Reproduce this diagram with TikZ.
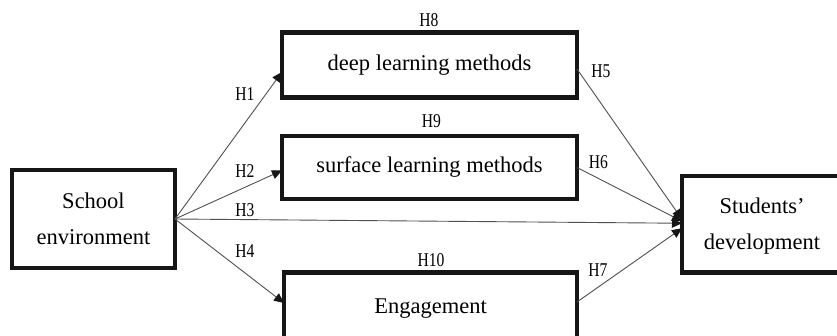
\documentclass[tikz,border=0pt]{standalone}
\usepackage{fontspec}
\setmainfont{Liberation Serif}
\newfontfamily\labfont[FakeStretch=0.8]{Liberation Serif}
\usetikzlibrary{arrows.meta,calc}
\definecolor{boxline}{HTML}{161616}
\definecolor{arrline}{HTML}{505050}
\begin{document}
\begin{tikzpicture}[x=1pt,y=-1pt,
  varbox/.style={draw=boxline,line width=4.6pt,rectangle,inner sep=0pt,outer sep=0pt,
    align=center,font=\fontsize{22.5}{36.5}\selectfont},
  arr/.style={draw=arrline,line width=0.9pt,
    -{Triangle[length=10pt,width=9pt,color=boxline]}},
  hlab/.style={inner sep=0pt,font=\labfont\fontsize{19.5}{20}\selectfont}]
\useasboundingbox (0,0) rectangle (837,335);
\clip (0,0) rectangle (837,335);
% boxes
\node[varbox,minimum width=163pt,minimum height=98pt] (school) at (93.5,219) {School\\environment};
\node[varbox,minimum width=295pt,minimum height=65pt] (deep) at (429.5,65) {deep learning methods};
\node[varbox,minimum width=295pt,minimum height=63pt] (surf) at (429.5,167.5) {surface learning methods};
\node[varbox,minimum width=293pt,minimum height=73pt] (eng) at (430.5,309) {\raisebox{4pt}{Engagement}};
\node[varbox,minimum width=240pt,minimum height=96.5pt] (stud) at (802,224.25) {\hspace*{-80pt}\begin{tabular}{@{}c@{}}Students'\\development\end{tabular}};
% connectors
\draw[arr] (school.east) -- ($(deep.west)+(0,7)$);
\draw[arr] (school.east) -- ($(surf.west)+(0,3)$);
\draw[arr] (school.east) -- ($(stud.west)+(0,-1)$);
\draw[arr] (school.east) -- ($(eng.west)+(0,-6)$);
\draw[arr] ($(deep.east)+(0,4)$) -- ($(stud.west)+(0,-5)$);
\draw[arr] (surf.east) -- ($(stud.west)+(0,-3)$);
\draw[arr] ($(eng.east)+(0,-7)$) -- ($(stud.west)+(0,4)$);
% labels
\node[hlab] (h1) at (245,94) {H1};
\node[hlab] (h2) at (245,171.5) {H2};
\node[hlab] (h3) at (245,210.5) {H3};
\node[hlab] (h4) at (245,251.5) {H4};
\node[hlab] (h5) at (601,71.5) {H5};
\node[hlab] (h6) at (598.5,162.5) {H6};
\node[hlab] (h7) at (598,270) {H7};
\node[hlab] (h8) at (429,20) {H8};
\node[hlab] (h9) at (431.5,121.5) {H9};
\node[hlab] (h10) at (431,260) {H10};
\end{tikzpicture}
\end{document}
